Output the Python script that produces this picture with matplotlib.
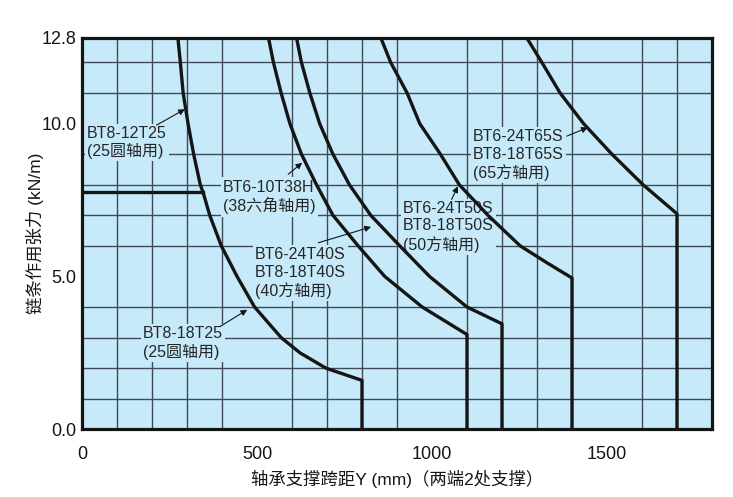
import matplotlib
matplotlib.use("Agg")
import matplotlib.pyplot as plt
from matplotlib.ticker import MultipleLocator, FixedLocator

plt.rcParams['font.family'] = ['Liberation Sans', 'Noto Sans CJK SC', 'DejaVu Sans']

# curves: span Y (mm) vs chain load (kN/m)
c1_x = [274, 281, 289, 303, 319, 338, 346, 365, 398, 443, 493, 569, 623, 697, 800, 800]
c1_y = [12.8, 12, 11, 10, 9, 8, 7.75, 7, 6, 5, 4, 3, 2.5, 2, 1.6, 0]
cap_x = [0, 346]
cap_y = [7.75, 7.75]
c2_x = [533, 547, 569, 594, 627, 670, 717, 789, 865, 972, 1100, 1100]
c2_y = [12.8, 12, 11, 10, 9, 8, 7, 6, 5, 4, 3.1, 0]
c3_x = [613, 627, 651, 679, 717, 764, 825, 908, 993, 1100, 1200, 1200]
c3_y = [12.8, 12, 11, 10, 9, 8, 7, 6, 5, 4, 3.45, 0]
c4_x = [854, 882, 929, 965, 1024, 1078, 1160, 1252, 1328, 1400, 1400]
c4_y = [12.8, 12, 11, 10, 9, 8, 7, 6, 5.45, 4.95, 0]
c5_x = [1271, 1314, 1366, 1433, 1514, 1603, 1700, 1700]
c5_y = [12.8, 12, 11, 10, 9, 8, 7.05, 0]

x_ticks = [0, 500, 1000, 1500]
y_ticks = [0.0, 5.0, 10.0, 12.8]

# label text, text position, arrow tail, arrow tip
labels = [
    ("BT8-12T25\n(25圆轴用)", (14, 9.38), (213, 9.95), (294, 10.47)),
    ("BT6-10T38H\n(38六角轴用)", (403, 7.6), (589, 8.34), (629, 8.72)),
    ("BT6-24T40S\nBT8-18T40S\n(40方轴用)", (494, 5.1), (675, 6.1), (826, 6.62)),
    ("BT6-24T50S\nBT8-18T50S\n(50方轴用)", (917, 6.62), (1056, 7.52), (1074, 7.95)),
    ("BT6-24T65S\nBT8-18T65S\n(65方轴用)", (1117, 8.96), (1385, 9.59), (1445, 9.87)),
    ("BT8-18T25\n(25圆轴用)", (174, 2.83), (394, 3.36), (472, 3.91)),
]

bg = '#c7eafa'
ink = '#151515'

fig = plt.figure(figsize=(7.33, 4.97), dpi=100)
ax = fig.add_axes([82 / 733, 1 - 429.3 / 497, 630 / 733, 391.3 / 497])
ax.set_facecolor(bg)

ax.set_xlim(0, 1800)
ax.set_ylim(0, 12.8)
ax.xaxis.set_minor_locator(MultipleLocator(100))
ax.yaxis.set_minor_locator(MultipleLocator(1))
ax.xaxis.set_major_locator(FixedLocator(x_ticks))
ax.yaxis.set_major_locator(FixedLocator(y_ticks))
ax.set_xticklabels([str(v) for v in x_ticks])
ax.set_yticklabels([f"{v:.1f}" for v in y_ticks])
ax.grid(which='minor', color='#3e4b56', lw=1.0, zorder=1)
ax.grid(which='major', visible=False)
ax.set_axisbelow(True)
ax.tick_params(which='both', length=0)
ax.tick_params(axis='x', pad=12, labelsize=13, labelcolor=ink)
ax.tick_params(axis='y', pad=4, labelsize=13, labelcolor=ink)
for s in ax.spines.values():
    s.set_linewidth(2.3)
    s.set_color(ink)
    s.set_zorder(6)

for xs, ys in [(c1_x, c1_y), (cap_x, cap_y), (c2_x, c2_y), (c3_x, c3_y), (c4_x, c4_y), (c5_x, c5_y)]:
    ax.plot(xs, ys, color=ink, lw=2.4, solid_joinstyle='round', zorder=5)

for txt, pos, tail, tip in labels:
    ax.text(pos[0], pos[1], txt, fontsize=11.5, color='#262626', ha='left', va='center',
            linespacing=1.2, zorder=3,
            bbox=dict(facecolor=bg, edgecolor='none', pad=1.5))
    ax.annotate("", xy=tip, xytext=tail,
                arrowprops=dict(arrowstyle='-|>', color=ink, lw=0.8,
                                mutation_scale=9, shrinkA=0, shrinkB=0),
                zorder=4)

ax.set_xlabel("轴承支撑跨距Y (mm)（两端2处支撑）", fontsize=12.5, color=ink)
ax.xaxis.set_label_coords(0.5, -0.104)
ax.set_ylabel("链条作用张力 (kN/m)", fontsize=12.5, color=ink, va='center')
ax.yaxis.set_label_coords(-0.0746, 0.5)

fig.savefig("out.png", dpi=100)
